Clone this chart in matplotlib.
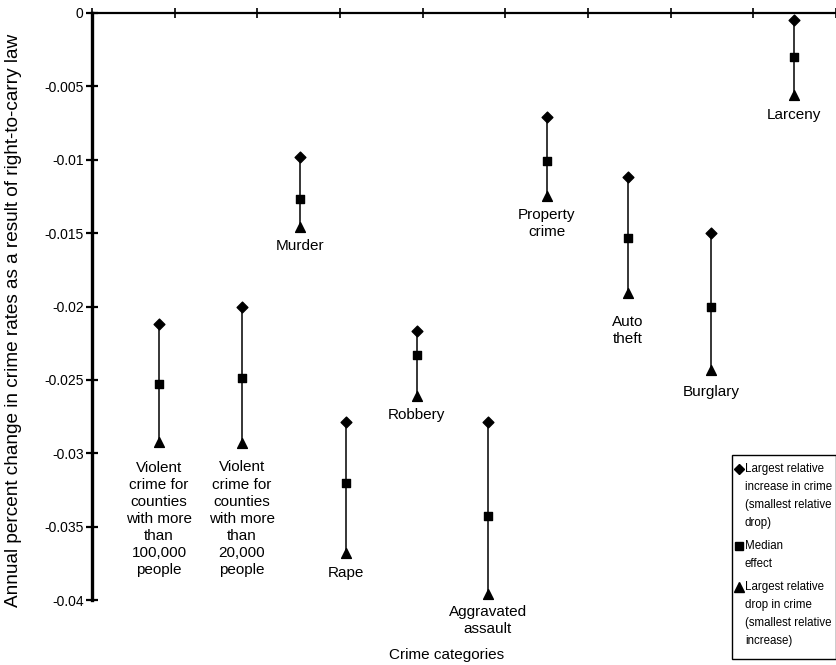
import matplotlib

matplotlib.use("Agg")

import matplotlib.pyplot as plt
from matplotlib.patches import Rectangle

plt.rcParams["font.family"] = ["Liberation Sans", "DejaVu Sans"]

categories = [
    "Violent\ncrime for\ncounties\nwith more\nthan\n100,000\npeople",
    "Violent\ncrime for\ncounties\nwith more\nthan\n20,000\npeople",
    "Murder",
    "Rape",
    "Robbery",
    "Aggravated\nassault",
    "Property\ncrime",
    "Auto\ntheft",
    "Burglary",
    "Larceny",
]
x_pos = [0.81, 1.81, 2.52, 3.07, 3.93, 4.79, 5.50, 6.48, 7.49, 8.49]
largest_increase = [-0.0212, -0.0200, -0.0098, -0.0279, -0.0217, -0.0279,
                    -0.0071, -0.0112, -0.0150, -0.0005]
median_effect = [-0.0253, -0.0249, -0.0127, -0.0320, -0.0233, -0.0343,
                 -0.0101, -0.0153, -0.0200, -0.0030]
largest_drop = [-0.0292, -0.0293, -0.0146, -0.0368, -0.0261, -0.0396,
                -0.0125, -0.0191, -0.0243, -0.0056]

legend_labels = [
    ["Largest relative", "increase in crime", "(smallest relative", "drop)"],
    ["Median", "effect"],
    ["Largest relative", "drop in crime", "(smallest relative", "increase)"],
]
legend_markers = ["D", "s", "^"]

# gap (points) between the triangle and its category label
label_gap = [-14, -12.6, -8.3, -9, -8.3, -7.6, -8.3, -15.5, -11, -9]

W, H = 837, 665
fig = plt.figure(figsize=(W / 100, H / 100), dpi=100)
ax = fig.add_axes([92 / W, 1 - 600 / H, 744 / W, 587 / H])

for x, hi, lo in zip(x_pos, largest_increase, largest_drop):
    ax.plot([x, x], [hi, lo], color="black", lw=1.1, zorder=1)

ax.scatter(x_pos, largest_increase, marker="D", s=30, color="black", zorder=3)
ax.scatter(x_pos, median_effect, marker="s", s=36, color="black", zorder=3)
ax.scatter(x_pos, largest_drop, marker="^", s=50, color="black", zorder=3)

for x, lo, name, gap in zip(x_pos, largest_drop, categories, label_gap):
    ax.annotate(name, (x, lo), xytext=(0, gap), textcoords="offset points",
                ha="center", va="top", fontsize=11, linespacing=1.28)

ax.set_xlim(0, 9)
ax.set_ylim(-0.04, 0)
ax.set_xticks(range(10))
ax.set_xticklabels([])
ax.set_yticks([0, -0.005, -0.01, -0.015, -0.02, -0.025, -0.03, -0.035, -0.04])
ax.set_yticklabels(["0", "-0.005", "-0.01", "-0.015", "-0.02", "-0.025",
                    "-0.03", "-0.035", "-0.04"], fontsize=10)
ax.xaxis.set_ticks_position("top")
ax.tick_params(axis="x", direction="inout", length=7, width=1.2)
ax.tick_params(axis="y", direction="inout", length=8, width=1.6, pad=2)
ax.spines["bottom"].set_visible(False)
ax.spines["right"].set_visible(False)
ax.spines["top"].set_linewidth(1.6)
ax.spines["left"].set_linewidth(2.4)

ax.set_ylabel("Annual percent change in crime rates as a result of right-to-carry law",
              fontsize=13.7)
ax.yaxis.set_label_coords((14 - 92) / 744, (600 - 320) / 587)
ax.yaxis.label.set_verticalalignment("center")

ax.text((447 - 92) / 744, (600 - 655) / 587, "Crime categories",
        transform=ax.transAxes, ha="center", va="center", fontsize=11)


# legend drawn by hand so each marker sits next to the first line of its text
def fx(px):
    return px / W


def fy(py):
    return 1 - py / H


fig.patches.append(Rectangle((fx(732), fy(659)), fx(836) - fx(732),
                             fy(455) - fy(659), transform=fig.transFigure,
                             fill=False, edgecolor="black", lw=1.0))
line_y = 469
for lines, marker in zip(legend_labels, legend_markers):
    size = {"D": 5, "s": 6, "^": 7}[marker]
    fig.add_artist(plt.Line2D([fx(739)], [fy(line_y)], marker=marker,
                              color="black", markersize=size, ls="none",
                              transform=fig.transFigure))
    for line in lines:
        fig.text(fx(745), fy(line_y), line, ha="left", va="center",
                 fontsize=8.3)
        line_y += 18
    line_y += 5

fig.savefig("out.png", dpi=100)
